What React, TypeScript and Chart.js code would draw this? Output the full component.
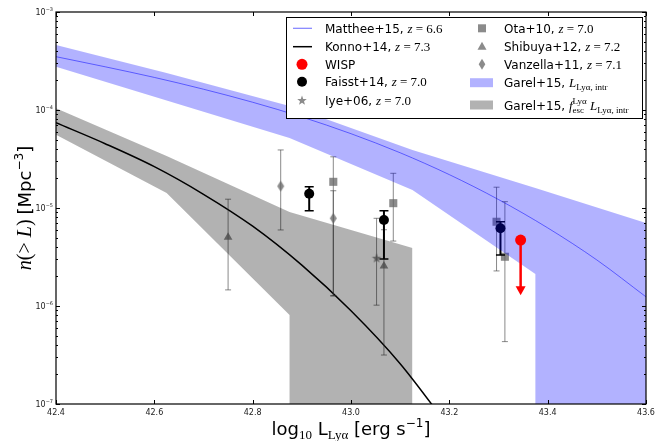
import React, { useEffect, useRef } from 'react';
import { Chart, registerables } from 'chart.js';

Chart.register(...registerables);

// ---------------- data ----------------
const xTickValues = [42.4, 42.6, 42.8, 43.0, 43.2, 43.4, 43.6];
const xTickLabels = ['42.4', '42.6', '42.8', '43.0', '43.2', '43.4', '43.6'];
const yTickValues = [1e-7, 1e-6, 1e-5, 1e-4, 1e-3];
const yTickExponents = ['−7', '−6', '−5', '−4', '−3'];
const yMinorFactors = [2, 3, 4, 5, 6, 7, 8, 9];

const mattheeL = [42.4, 42.5, 42.6, 42.7, 42.8, 42.9, 43.0, 43.1, 43.2, 43.3, 43.4, 43.5, 43.6];
const mattheeN = [3.5e-4, 2.76e-4, 2.15e-4, 1.63e-4, 1.2e-4, 8.49e-5, 5.73e-5, 3.66e-5, 2.19e-5, 1.22e-5, 6.27e-6, 2.95e-6, 1.24e-6];

const konnoL = [42.4, 42.5, 42.6, 42.7, 42.8, 42.9, 43.0, 43.1, 43.2];
const konnoN = [7.41e-5, 4.53e-5, 2.64e-5, 1.38e-5, 6.52e-6, 2.61e-6, 8.95e-7, 2.58e-7, 5.73e-8];

const greyBandL = [42.4, 42.625, 42.875, 42.875, 43.125, 43.125];
const greyBandHi = [1.04e-4, 3.4e-5, 9.1e-6, 9.1e-6, 3.9e-6, 1e-9];
const greyBandLo = [5.6e-5, 1.42e-5, 8.1e-7, 1e-9, 1e-9, 1e-9];

const blueBandL = [42.4, 42.625, 42.875, 43.125, 43.375, 43.375, 43.6];
const blueBandHi = [4.6e-4, 2.39e-4, 1.1e-4, 3.91e-5, 1.6e-5, 1.6e-5, 7.03e-6];
const blueBandLo = [2.77e-4, 1.25e-4, 5.18e-5, 1.53e-5, 2.12e-6, 1e-9, 1e-9];

const otaL = [42.964, 43.086, 43.296, 43.313];
const otaN = [1.85e-5, 1.12e-5, 7.24e-6, 3.18e-6];
const otaHi = [3.33e-5, 2.26e-5, 1.63e-5, 1.16e-5];
const otaLo = [1.27e-6, 4.6e-6, 2.28e-6, 4.33e-7];

const shibuyaL = [42.75, 43.067];
const shibuyaN = [5.04e-6, 2.56e-6];
const shibuyaHi = [1.23e-5, 6.0e-6];
const shibuyaLo = [1.46e-6, 3.16e-7];

const vanzellaL = [42.857, 42.964];
const vanzellaN = [1.67e-5, 7.85e-6];
const vanzellaHi = [3.91e-5, 1.5e-5];
const vanzellaLo = [5.97e-6, 1.27e-6];

const iyeL = [43.052];
const iyeN = [3.11e-6];
const iyeHi = [7.85e-6];
const iyeLo = [1.02e-6];

const faisstL = [42.915, 43.067, 43.304];
const faisstN = [1.4e-5, 7.55e-6, 6.21e-6];
const faisstHi = [1.65e-5, 9.37e-6, 7.24e-6];
const faisstLo = [9.37e-6, 3.02e-6, 3.31e-6];

const wispL = [43.345];
const wispN = [4.71e-6];
const wispLimit = [1.29e-6];

// ---------------- styles ----------------
const SANS = '"DejaVu Sans", sans-serif';
const SERIF = '"Liberation Serif", serif';
const GREY_MARK = 'rgba(100,100,100,0.75)';
const GREY_BAR = 'rgba(60,60,60,0.6)';

type Run = { t?: string; f?: string; dy?: number; stack?: Run[] };

function runsWidth(ctx: CanvasRenderingContext2D, runs: Run[]) {
  let w = 0;
  for (const r of runs) {
    if (r.stack) {
      let m = 0;
      for (const s of r.stack) {
        ctx.font = s.f!;
        m = Math.max(m, ctx.measureText(s.t!).width);
      }
      w += m;
    } else {
      ctx.font = r.f!;
      w += ctx.measureText(r.t!).width;
    }
  }
  return w;
}

function drawRuns(ctx: CanvasRenderingContext2D, runs: Run[], x: number, y: number, align: string) {
  const w = runsWidth(ctx, runs);
  let cx = align === 'left' ? x : align === 'center' ? x - w / 2 : x - w;
  ctx.textAlign = 'left';
  ctx.textBaseline = 'alphabetic';
  for (const r of runs) {
    if (r.stack) {
      let m = 0;
      for (const s of r.stack) {
        ctx.font = s.f!;
        ctx.fillText(s.t!, cx, y + (s.dy || 0));
        m = Math.max(m, ctx.measureText(s.t!).width);
      }
      cx += m;
    } else {
      ctx.font = r.f!;
      ctx.fillText(r.t!, cx, y + (r.dy || 0));
      cx += ctx.measureText(r.t!).width;
    }
  }
}

const LEG_SANS = `12px ${SANS}`;
const LEG_IT = `italic 13px ${SERIF}`;
const LEG_RM = `13px ${SERIF}`;
const LEG_SUB = `9px ${SERIF}`;

function zRuns(label: string, val: string): Run[] {
  return [
    { t: label, f: LEG_SANS },
    { t: 'z', f: LEG_IT },
    { t: ' = ', f: LEG_RM },
    { t: val, f: LEG_RM },
  ];
}

function makeDiamond(w: number, h: number, color: string) {
  const c = document.createElement('canvas');
  c.width = Math.ceil(w + 2);
  c.height = Math.ceil(h + 2);
  const g = c.getContext('2d')!;
  g.fillStyle = color;
  g.beginPath();
  g.moveTo(c.width / 2, 1);
  g.lineTo(c.width - 1, c.height / 2);
  g.lineTo(c.width / 2, c.height - 1);
  g.lineTo(1, c.height / 2);
  g.closePath();
  g.fill();
  return c;
}

function starPath(ctx: CanvasRenderingContext2D, x: number, y: number, r: number) {
  ctx.beginPath();
  for (let i = 0; i < 10; i++) {
    const a = -Math.PI / 2 + (i * Math.PI) / 5;
    const rr = i % 2 === 0 ? r : r * 0.42;
    const px = x + rr * Math.cos(a);
    const py = y + 0.6 + rr * Math.sin(a);
    if (i === 0) ctx.moveTo(px, py);
    else ctx.lineTo(px, py);
  }
  ctx.closePath();
}

function makeStar(r: number, color: string) {
  const s = Math.ceil(r * 2 + 2);
  const c = document.createElement('canvas');
  c.width = s;
  c.height = s;
  const g = c.getContext('2d')!;
  g.fillStyle = color;
  starPath(g, s / 2, s / 2, r);
  g.fill();
  return c;
}

const pts = (xs: number[], ys: number[]) => xs.map((x, i) => ({ x, y: ys[i] }));

const decorPlugin = {
  id: 'decor',
  beforeDatasetDraw(chart: any, args: any) {
    const ds = chart.data.datasets[args.index];
    const ctx: CanvasRenderingContext2D = chart.ctx;
    const xs = chart.scales.x;
    const ys = chart.scales.y;
    const a = chart.chartArea;
    if (ds.errHi) {
      ctx.save();
      ctx.beginPath();
      ctx.rect(a.left, a.top, a.right - a.left, a.bottom - a.top);
      ctx.clip();
      ctx.strokeStyle = ds.errColor;
      ds.data.forEach((p: any, i: number) => {
        const x = xs.getPixelForValue(p.x);
        const y1 = ys.getPixelForValue(ds.errHi[i]);
        const y2 = ys.getPixelForValue(ds.errLo[i]);
        ctx.lineWidth = ds.errWidth;
        ctx.beginPath();
        ctx.moveTo(x, y1);
        ctx.lineTo(x, y2);
        ctx.stroke();
        ctx.lineWidth = ds.capWidth;
        ctx.beginPath();
        ctx.moveTo(x - ds.capHalf, y1);
        ctx.lineTo(x + ds.capHalf, y1);
        ctx.moveTo(x - ds.capHalf, y2);
        ctx.lineTo(x + ds.capHalf, y2);
        ctx.stroke();
      });
      ctx.restore();
    }
    if (ds.arrowTo) {
      ctx.save();
      ds.data.forEach((p: any, i: number) => {
        const x = xs.getPixelForValue(p.x);
        const y1 = ys.getPixelForValue(p.y);
        const y2 = ys.getPixelForValue(ds.arrowTo[i]);
        ctx.strokeStyle = 'red';
        ctx.fillStyle = 'red';
        ctx.lineWidth = 2.5;
        ctx.beginPath();
        ctx.moveTo(x, y1);
        ctx.lineTo(x, y2 - 8);
        ctx.stroke();
        ctx.beginPath();
        ctx.moveTo(x - 5, y2 - 9);
        ctx.lineTo(x + 5, y2 - 9);
        ctx.lineTo(x, y2);
        ctx.closePath();
        ctx.fill();
      });
      ctx.restore();
    }
  },
  afterDraw(chart: any) {
    const ctx: CanvasRenderingContext2D = chart.ctx;
    const a = chart.chartArea;
    const xs = chart.scales.x;
    const ys = chart.scales.y;
    ctx.save();
    // frame
    ctx.strokeStyle = '#000';
    ctx.lineWidth = 1.2;
    ctx.strokeRect(a.left, a.top, a.right - a.left, a.bottom - a.top);
    // ticks
    ctx.lineWidth = 1;
    ctx.beginPath();
    xTickValues.forEach((v) => {
      const x = Math.round(xs.getPixelForValue(v)) + 0.5;
      ctx.moveTo(x, a.bottom);
      ctx.lineTo(x, a.bottom - 4);
      ctx.moveTo(x, a.top);
      ctx.lineTo(x, a.top + 4);
    });
    yTickValues.forEach((v, k) => {
      const y = Math.round(ys.getPixelForValue(v)) + 0.5;
      ctx.moveTo(a.left, y);
      ctx.lineTo(a.left + 4, y);
      ctx.moveTo(a.right, y);
      ctx.lineTo(a.right - 4, y);
      if (k < yTickValues.length - 1) {
        yMinorFactors.forEach((f) => {
          const ym = Math.round(ys.getPixelForValue(v * f)) + 0.5;
          ctx.moveTo(a.left, ym);
          ctx.lineTo(a.left + 2, ym);
          ctx.moveTo(a.right, ym);
          ctx.lineTo(a.right - 2, ym);
        });
      }
    });
    ctx.stroke();
    // tick labels
    ctx.fillStyle = '#222';
    ctx.font = `8px ${SANS}`;
    ctx.textAlign = 'center';
    ctx.textBaseline = 'top';
    xTickValues.forEach((v, i) => {
      ctx.fillText(xTickLabels[i], xs.getPixelForValue(v), a.bottom + 5);
    });
    yTickValues.forEach((v, i) => {
      const y = ys.getPixelForValue(v);
      drawRuns(
        ctx,
        [
          { t: '10', f: `8px ${SANS}` },
          { t: yTickExponents[i], f: `5px ${SANS}`, dy: -4 },
        ],
        a.left - 3,
        y + 3,
        'right'
      );
    });
    // axis titles
    ctx.fillStyle = '#000';
    drawRuns(
      ctx,
      [
        { t: 'log', f: `18px ${SANS}` },
        { t: '10', f: `13px ${SERIF}`, dy: 4 },
        { t: ' L', f: `18px ${SANS}` },
        { t: 'Lyα', f: `13px ${SERIF}`, dy: 4 },
        { t: ' [erg s', f: `18px ${SANS}` },
        { t: '−1', f: `12px ${SANS}`, dy: -8 },
        { t: ']', f: `18px ${SANS}` },
      ],
      (a.left + a.right) / 2,
      435,
      'center'
    );
    ctx.save();
    ctx.translate(31, (a.top + a.bottom) / 2);
    ctx.rotate(-Math.PI / 2);
    drawRuns(
      ctx,
      [
        { t: 'n', f: `italic 20px ${SERIF}` },
        { t: '(> ', f: `20px ${SERIF}` },
        { t: 'L', f: `italic 20px ${SERIF}` },
        { t: ') ', f: `20px ${SERIF}` },
        { t: '[Mpc', f: `18px ${SANS}` },
        { t: '−3', f: `12px ${SANS}`, dy: -8 },
        { t: ']', f: `18px ${SANS}` },
      ],
      0,
      0,
      'center'
    );
    ctx.restore();

    // legend
    const L = { x: 286, y: 17, w: 356, h: 101 };
    ctx.fillStyle = '#fff';
    ctx.fillRect(L.x, L.y, L.w, L.h);
    ctx.strokeStyle = '#000';
    ctx.lineWidth = 1;
    ctx.strokeRect(L.x + 0.5, L.y + 0.5, L.w, L.h);
    const c1 = 302, c2 = 482, t1 = 325, t2 = 504;
    const rows1 = [28.3, 46.7, 64.3, 81.7, 100];
    const rows2 = [28.3, 46.7, 64.3, 82.7, 105];
    ctx.lineWidth = 1.2;
    ctx.strokeStyle = 'rgba(0,0,255,0.5)';
    ctx.beginPath();
    ctx.moveTo(293, rows1[0]);
    ctx.lineTo(312, rows1[0]);
    ctx.stroke();
    ctx.lineWidth = 1.5;
    ctx.strokeStyle = '#000';
    ctx.beginPath();
    ctx.moveTo(293, rows1[1]);
    ctx.lineTo(312, rows1[1]);
    ctx.stroke();
    ctx.fillStyle = 'red';
    ctx.beginPath();
    ctx.arc(c1, rows1[2], 5.5, 0, Math.PI * 2);
    ctx.fill();
    ctx.fillStyle = '#000';
    ctx.beginPath();
    ctx.arc(c1, rows1[3], 5, 0, Math.PI * 2);
    ctx.fill();
    ctx.fillStyle = GREY_MARK;
    starPath(ctx, c1, rows1[4], 5);
    ctx.fill();
    ctx.fillRect(c2 - 4, rows2[0] - 4, 8, 8);
    ctx.beginPath();
    ctx.moveTo(c2, rows2[1] - 5);
    ctx.lineTo(c2 + 4.5, rows2[1] + 3);
    ctx.lineTo(c2 - 4.5, rows2[1] + 3);
    ctx.closePath();
    ctx.fill();
    ctx.beginPath();
    ctx.moveTo(c2, rows2[2] - 5.5);
    ctx.lineTo(c2 + 3.3, rows2[2]);
    ctx.lineTo(c2, rows2[2] + 5.5);
    ctx.lineTo(c2 - 3.3, rows2[2]);
    ctx.closePath();
    ctx.fill();
    ctx.fillStyle = 'rgba(0,0,255,0.3)';
    ctx.fillRect(470, rows2[3] - 4.5, 23, 9);
    ctx.fillStyle = 'rgba(0,0,0,0.3)';
    ctx.fillRect(470, rows2[4] - 4.5, 23, 9);
    ctx.fillStyle = '#000';
    drawRuns(ctx, zRuns('Matthee+15, ', '6.6'), t1, rows1[0] + 4.5, 'left');
    drawRuns(ctx, zRuns('Konno+14, ', '7.3'), t1, rows1[1] + 4.5, 'left');
    drawRuns(ctx, [{ t: 'WISP', f: LEG_SANS }], t1, rows1[2] + 4.5, 'left');
    drawRuns(ctx, zRuns('Faisst+14, ', '7.0'), t1, rows1[3] + 4.5, 'left');
    drawRuns(ctx, zRuns('Iye+06, ', '7.0'), t1, rows1[4] + 4.5, 'left');
    drawRuns(ctx, zRuns('Ota+10, ', '7.0'), t2, rows2[0] + 4.5, 'left');
    drawRuns(ctx, zRuns('Shibuya+12, ', '7.2'), t2, rows2[1] + 4.5, 'left');
    drawRuns(ctx, zRuns('Vanzella+11, ', '7.1'), t2, rows2[2] + 4.5, 'left');
    drawRuns(
      ctx,
      [
        { t: 'Garel+15, ', f: LEG_SANS },
        { t: 'L', f: LEG_IT },
        { t: 'Lyα, intr', f: LEG_SUB, dy: 3 },
      ],
      t2,
      rows2[3] + 4.5,
      'left'
    );
    drawRuns(
      ctx,
      [
        { t: 'Garel+15, ', f: LEG_SANS },
        { t: 'f', f: LEG_IT },
        {
          stack: [
            { t: 'esc', f: LEG_SUB, dy: 3 },
            { t: 'Lyα', f: LEG_SUB, dy: -6 },
          ],
        },
        { t: ' L', f: LEG_IT },
        { t: 'Lyα, intr', f: LEG_SUB, dy: 3 },
      ],
      t2,
      rows2[4] + 4.5,
      'left'
    );
    ctx.restore();
  },
};

export default function App() {
  const ref = useRef<HTMLCanvasElement>(null);
  useEffect(() => {
    if (!ref.current) return;
    const diamond = makeDiamond(6.6, 11, GREY_MARK);
    const star = makeStar(5, GREY_MARK);
    const lineBase = { type: 'line', pointRadius: 0, showLine: true };
    const scatterBase = { type: 'line', showLine: false, borderWidth: 0 };
    const greyErr = { errColor: GREY_BAR, errWidth: 1, capWidth: 1, capHalf: 3 };
    const chart = new Chart(ref.current, {
      type: 'line',
      data: {
        datasets: [
          {
            ...lineBase,
            data: pts(mattheeL, mattheeN),
            borderColor: 'rgba(0,0,255,0.5)',
            borderWidth: 1,
            cubicInterpolationMode: 'monotone',
            order: 12,
          },
          {
            ...lineBase,
            data: pts(konnoL, konnoN),
            borderColor: '#000',
            borderWidth: 1.5,
            cubicInterpolationMode: 'monotone',
            order: 11,
          },
          {
            ...scatterBase,
            ...greyErr,
            data: pts(otaL, otaN),
            pointStyle: 'rect',
            pointRadius: 5.7,
            pointBackgroundColor: GREY_MARK,
            pointBorderWidth: 0,
            errHi: otaHi,
            errLo: otaLo,
            order: 10,
          },
          {
            ...scatterBase,
            ...greyErr,
            data: pts(shibuyaL, shibuyaN),
            pointStyle: 'triangle',
            pointRadius: 5,
            pointBackgroundColor: GREY_MARK,
            pointBorderWidth: 0,
            errHi: shibuyaHi,
            errLo: shibuyaLo,
            order: 9,
          },
          {
            ...scatterBase,
            ...greyErr,
            data: pts(vanzellaL, vanzellaN),
            pointStyle: diamond,
            pointRadius: 5,
            errHi: vanzellaHi,
            errLo: vanzellaLo,
            order: 8,
          },
          {
            ...scatterBase,
            ...greyErr,
            data: pts(iyeL, iyeN),
            pointStyle: star,
            pointRadius: 5,
            errHi: iyeHi,
            errLo: iyeLo,
            order: 7,
          },
          {
            ...scatterBase,
            data: pts(faisstL, faisstN),
            pointStyle: 'circle',
            pointRadius: 5,
            pointBackgroundColor: '#000',
            pointBorderWidth: 0,
            errHi: faisstHi,
            errLo: faisstLo,
            errColor: '#000',
            errWidth: 2,
            capWidth: 1.5,
            capHalf: 4.5,
            order: 6,
          },
          {
            ...lineBase,
            data: pts(greyBandL, greyBandHi),
            borderWidth: 0,
            borderColor: 'rgba(0,0,0,0)',
            backgroundColor: 'rgba(0,0,0,0.3)',
            fill: 8,
            order: 5,
          },
          {
            ...lineBase,
            data: pts(greyBandL, greyBandLo),
            borderWidth: 0,
            borderColor: 'rgba(0,0,0,0)',
            fill: false,
            order: 5,
          },
          {
            ...lineBase,
            data: pts(blueBandL, blueBandHi),
            borderWidth: 0,
            borderColor: 'rgba(0,0,0,0)',
            backgroundColor: 'rgba(0,0,255,0.3)',
            fill: 10,
            order: 4,
          },
          {
            ...lineBase,
            data: pts(blueBandL, blueBandLo),
            borderWidth: 0,
            borderColor: 'rgba(0,0,0,0)',
            fill: false,
            order: 4,
          },
          {
            ...scatterBase,
            data: pts(wispL, wispN),
            pointStyle: 'circle',
            pointRadius: 5.5,
            pointBackgroundColor: 'red',
            pointBorderWidth: 0,
            arrowTo: wispLimit,
            order: 1,
          },
        ] as any,
      },
      options: {
        responsive: false,
        animation: false,
        events: [],
        layout: { padding: { top: 12, right: 22, left: 0, bottom: 0 } },
        plugins: {
          legend: { display: false },
          tooltip: { enabled: false },
          title: { display: false },
        },
        scales: {
          x: {
            type: 'linear',
            min: 42.4,
            max: 43.6,
            grid: { display: false },
            border: { display: false },
            ticks: { display: false },
            afterFit: (s: any) => {
              s.height = 37;
            },
          },
          y: {
            type: 'logarithmic',
            min: 1e-7,
            max: 1e-3,
            grid: { display: false },
            border: { display: false },
            ticks: { display: false },
            afterFit: (s: any) => {
              s.width = 56;
            },
          },
        },
      } as any,
      plugins: [decorPlugin as any],
    });
    return () => chart.destroy();
  }, []);
  return (
    <canvas
      ref={ref}
      width={668}
      height={441}
      style={{ position: 'absolute', left: 0, top: 0, display: 'block' }}
    />
  );
}
